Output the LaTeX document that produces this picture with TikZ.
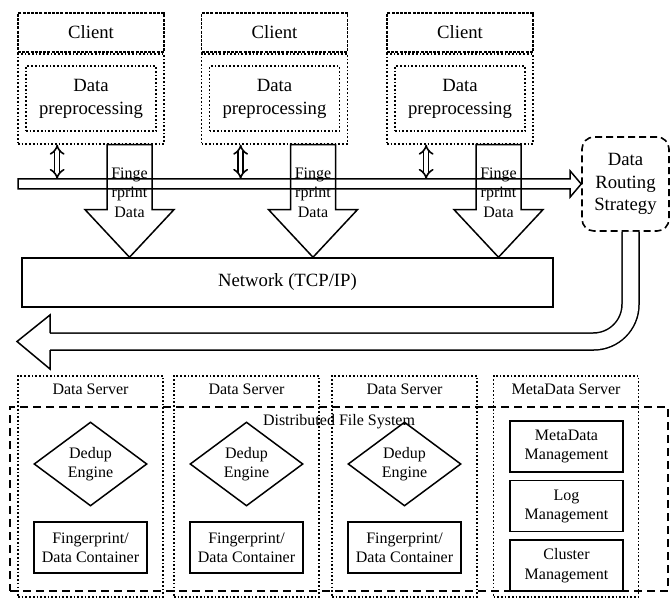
\documentclass[tikz,border=0pt]{standalone}
\usepackage{fontspec}
\setmainfont{Liberation Serif}
\usetikzlibrary{
  arrows.meta,
  positioning,
  calc,
  shapes.geometric
}
\newcommand{\bigfs}{\fontsize{18.7}{22.4}\selectfont}
\newcommand{\smallfs}{\fontsize{16}{19.2}\selectfont}

\begin{document}
\begin{tikzpicture}[
  x=1pt, y=-1pt,
  clientbox/.style={
    draw,
    dash pattern=on 3pt off 1.2pt,
    line width=1.8pt,
    minimum width=146pt,
    minimum height=39pt,
    font=\bigfs
  },
  outerbox/.style={draw,dotted,line width=1.7pt,minimum width=146pt,minimum height=90pt},
  prepbox/.style={draw,dotted,line width=1.7pt,minimum width=130pt,minimum height=65pt,
    align=center,font=\bigfs},
  pipe/.style={draw,line width=1.5pt,line join=miter},
  fptext/.style={align=center,font=\smallfs,inner sep=0pt},
  updown/.style={double,double distance=3.4pt,line width=1.6pt,{Implies}-{Implies}},
  netbox/.style={draw,line width=1.5pt,minimum width=531pt,minimum height=49pt,font=\bigfs},
  routebox/.style={
    draw,
    dash pattern=on 7pt off 4pt,
    line width=1.6pt,
    rounded corners=12pt,
    minimum width=87pt,
    minimum height=94pt,
    align=center,
    font=\bigfs
  },
  retpipe/.style={double,double distance=15.5pt,line width=1.5pt,rounded corners=37pt},
  srvbox/.style={draw,dotted,line width=1.7pt,minimum width=145pt,minimum height=221pt},
  srvlabel/.style={font=\smallfs,inner sep=0pt},
  dfsbox/.style={draw,dash pattern=on 8pt off 5pt,line width=1.8pt,
    minimum width=658pt,minimum height=184pt},
  dedup/.style={draw,diamond,aspect=1.35,line width=1.5pt,inner sep=0pt,
    minimum width=113pt,minimum height=84pt,align=center,font=\smallfs},
  store/.style={draw,line width=1.6pt,minimum width=113pt,minimum height=51pt,
    align=center,font=\smallfs}
]
\useasboundingbox (0,0) rectangle (670,599);

% clients
\node[clientbox] (client1) at (91,32.5) {Client};
\node[clientbox] (client2) at (274.5,32.5) {Client};
\node[clientbox] (client3) at (460,32.5) {Client};

\node[outerbox,below=0pt of client1] (outer1) {};
\node[outerbox,below=0pt of client2] (outer2) {};
\node[outerbox,below=0pt of client3] (outer3) {};

\node[prepbox] (prep1) at (outer1.center) {Data\\preprocessing};
\node[prepbox] (prep2) at (outer2.center) {Data\\preprocessing};
\node[prepbox] (prep3) at (outer3.center) {Data\\preprocessing};

% network and routing
\node[netbox] (net) at (287.5,282.5) {Network (TCP/IP)};
\node[routebox] (route) at (625.5,184) {Data\\Routing\\Strategy};

% data bus towards the routing strategy
\coordinate (bus) at (18,179);
\draw[pipe] (route.west) -- ++(-11,-13) -- ++(0,8) -- (bus) -- ++(0,10)
  -- ($(route.west)+(-11,5)$) -- ++(0,8) -- cycle;

\coordinate (ud1) at ($(outer1.south west)+(40,0)$);
\coordinate (ud2) at ($(outer2.south west)+(40,0)$);
\coordinate (ud3) at ($(outer3.south west)+(40,0)$);
\draw[updown] (ud1) -- (ud1 |- bus);
\draw[updown] (ud2) -- (ud2 |- bus);
\draw[updown] (ud3) -- (ud3 |- bus);

% fingerprint arrows down to the network
\draw[pipe] ($(outer1.south)+(16,0)$) -- ++(0,65) -- ++(-22,0)
  -- ($(outer1.south |- net.north)+(38.5,0)$) -- ($(outer1.south)+(83,65)$)
  -- ++(-22,0) -- ++(0,-65) -- cycle;
\draw[pipe] ($(outer2.south)+(16,0)$) -- ++(0,65) -- ++(-22,0)
  -- ($(outer2.south |- net.north)+(38.5,0)$) -- ($(outer2.south)+(83,65)$)
  -- ++(-22,0) -- ++(0,-65) -- cycle;
\draw[pipe] ($(outer3.south)+(16,0)$) -- ++(0,65) -- ++(-22,0)
  -- ($(outer3.south |- net.north)+(38.5,0)$) -- ($(outer3.south)+(83,65)$)
  -- ++(-22,0) -- ++(0,-65) -- cycle;

\node[fptext] (fplabel1) at ($(outer1.south)+(38.5,48)$) {Finge\\rprint\\Data};
\node[fptext] (fplabel2) at ($(outer2.south)+(38.5,48)$) {Finge\\rprint\\Data};
\node[fptext] (fplabel3) at ($(outer3.south)+(38.5,48)$) {Finge\\rprint\\Data};

% routed data back to the servers
\coordinate (retback) at (50,341.5);
\coordinate (rettip) at (17,341.5);
\draw[retpipe] ($(route.south)+(5,0)$) |- (retback);
\draw[pipe] ($(retback)+(0,-8.5)$) -- ++(0,-18) -- (rettip)
  -- ($(retback)+(0,27.5)$) -- ++(0,-19);

% servers
\node[srvbox] (ds1) at (90.5,486.5) {};
\node[srvbox] (ds2) at (246.5,486.5) {};
\node[srvbox] (ds3) at (404.5,486.5) {};
\node[srvbox] (mds) at (566,486.5) {};

\node[srvlabel] (ds1label) at ($(ds1.north)+(0,14)$) {Data Server};
\node[srvlabel] (ds2label) at ($(ds2.north)+(0,14)$) {Data Server};
\node[srvlabel] (ds3label) at ($(ds3.north)+(0,14)$) {Data Server};
\node[srvlabel] (mdslabel) at ($(mds.north)+(0,14)$) {MetaData Server};

\node[dfsbox] (dfs) at (339,499) {};
\node[font=\smallfs,inner sep=2pt,below=6pt of dfs.north] (dfslabel) {Distributed File System};

\node[dedup] (dedup1) at (90.5,464) {Dedup\\Engine};
\node[dedup] (dedup2) at (246.5,464) {Dedup\\Engine};
\node[dedup] (dedup3) at (404.5,464) {Dedup\\Engine};

\node[store] (store1) at (90.5,547.5) {Fingerprint/\\Data Container};
\node[store] (store2) at (246.5,547.5) {Fingerprint/\\Data Container};
\node[store] (store3) at (404.5,547.5) {Fingerprint/\\Data Container};

\node[store] (metamgmt) at (566.5,446.5) {MetaData\\Management};
\node[store,below=7pt of metamgmt] (logmgmt) {Log\\Management};
\node[store,below=7pt of logmgmt] (clustermgmt) {Cluster\\Management};
\end{tikzpicture}
\end{document}
